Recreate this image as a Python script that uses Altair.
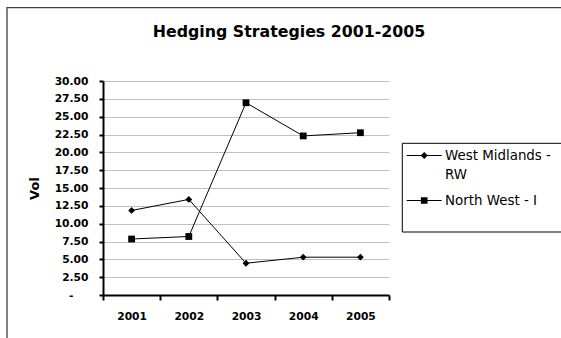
import altair as alt
import pandas as pd

years = ["2001", "2002", "2003", "2004", "2005"]
series_names = ["West Midlands - RW", "North West - I"]
west_midlands = [11.85, 13.4, 4.45, 5.3, 5.3]
north_west = [7.85, 8.2, 26.95, 22.3, 22.75]
y_ticks = [0, 2.5, 5, 7.5, 10, 12.5, 15, 17.5, 20, 22.5, 25, 27.5, 30]

rows = []
for name, vals in zip(series_names, [west_midlands, north_west]):
    for yr, v in zip(years, vals):
        rows.append({"Year": yr, "Series": name, "Vol": v})
df = pd.DataFrame(rows)

FONT = "DejaVu Sans"
W, H = 286, 214

label_style = dict(labelFont=FONT, labelFontWeight="bold", labelFontSize=10.7,
                   labelColor="black", domainColor="black", domainWidth=2,
                   tickColor="black", tickWidth=2)

x_enc = alt.X(
    "Year:O", sort=years,
    scale=alt.Scale(type="band", paddingInner=0, paddingOuter=0),
    bandPosition=0.5,
    axis=alt.Axis(title=None, tickBand="extent", tickSize=5, labelPadding=11,
                  labelAngle=0, grid=False, **label_style),
)
y_enc = alt.Y(
    "Vol:Q",
    scale=alt.Scale(domain=[0, 30], nice=False, zero=True),
    axis=alt.Axis(
        values=y_ticks, title="Vol", tickSize=4,
        labelPadding=alt.condition("datum.value == 0", alt.value(26), alt.value(11)),
        labelExpr="datum.value == 0 ? '-' : format(datum.value, '.2f')",
        grid=True, gridColor="#c0c0c0", gridWidth=1,
        titleX=-69, titleY=H / 2, titleAngle=-90, titleAlign="center",
        titleBaseline="middle", titleFont=FONT, titleFontSize=13,
        titleFontWeight="bold", titleColor="black", **label_style,
    ),
)

lines = alt.Chart(df).mark_line(color="black", strokeWidth=1).encode(
    x=x_enc, y=y_enc, detail="Series:N"
)
points = alt.Chart(df).mark_point(filled=True, color="black", opacity=1, size=46).encode(
    x=x_enc, y=y_enc,
    shape=alt.Shape("Series:N", scale=alt.Scale(domain=series_names, range=["diamond", "square"]), legend=None),
)

combo_diamond = "M-1,-0.03H1V0.03H-1ZM0,-0.2L0.2,0L0,0.2L-0.2,0Z"
combo_square = "M-1,-0.03H1V0.03H-1ZM-0.19,-0.19H0.19V0.19H-0.19Z"

legend_layer = alt.Chart(df).mark_point(filled=True, color="black", opacity=1).transform_filter(
    "false"
).encode(
    x=x_enc, y=y_enc,
    shape=alt.Shape(
        "Series:N",
        scale=alt.Scale(domain=series_names, range=[combo_diamond, combo_square]),
        legend=alt.Legend(
            title=None, orient="none", legendX=303.7, legendY=57,
            symbolSize=1225, symbolStrokeWidth=0, symbolFillColor="black",
            labelFont=FONT, labelFontSize=13.4, rowPadding=1,
            labelColor="black", labelOffset=3.3, labelLimit=400, padding=0,
            labelExpr="datum.label == 'West Midlands - RW' ? ['West Midlands -', 'RW'] : datum.label",
        ),
    ),
)

frame_data = pd.DataFrame({"k": [0]})
outer_border = alt.Chart(frame_data).mark_rect(
    fillOpacity=0, stroke="#404040", strokeWidth=1.3
).encode(
    x=alt.value(-96), x2=alt.value(480), y=alt.value(-73.3), y2=alt.value(280)
)
legend_box = alt.Chart(frame_data).mark_rect(
    fillOpacity=0, stroke="black", strokeWidth=1
).encode(
    x=alt.value(299.3), x2=alt.value(480), y=alt.value(62.3), y2=alt.value(151)
)

chart = alt.layer(outer_border, legend_box, lines, points, legend_layer).resolve_scale(
    shape="independent"
).properties(
    width=W, height=H,
    background="white",
    autosize=alt.AutoSizeParams(type="none"),
    padding={"left": 103, "top": 81, "right": 172, "bottom": 43},
    title=alt.TitleParams(
        "Hedging Strategies 2001-2005", anchor="middle", frame="group", dx=43,
        offset=-45.6, baseline="alphabetic", font=FONT, fontSize=15.8,
        fontWeight="bold", color="black",
    ),
).configure(
    style={"guide-label": {"lineHeight": 19.3}}
).configure_view(stroke=None)

chart.save("out.html", embed_options={"renderer": "svg", "actions": False})
